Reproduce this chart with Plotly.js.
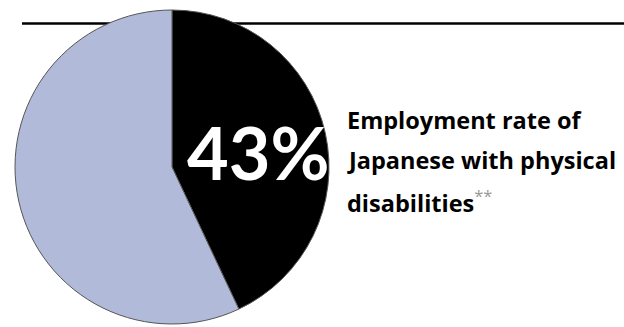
<!DOCTYPE html>
<html>
<head>
<meta charset="utf-8">
<script src="https://cdn.plot.ly/plotly-3.0.1.min.js"></script>
<style>html,body{margin:0;padding:0;background:#fff;}#chart{width:624px;height:327px;}</style>
</head>
<body>
<div id="chart"></div>
<script>
const labels = ["Employed", "Not employed"];
const values = [43, 57];
const colors = ["#000000", "#b2bad9"];
const bigLabel = "43%";
const captionLines = ["Employment rate of", "Japanese with physical", "disabilities"];
const footnoteMark = "**";

const W = 624, H = 327;
const cx = 172, cy = 167, r = 157;

const trace = {
  type: "pie",
  labels: labels,
  values: values,
  sort: false,
  direction: "clockwise",
  rotation: 0,
  textinfo: "none",
  hoverinfo: "label+percent",
  marker: { colors: colors, line: { color: "#555555", width: 1 } },
  domain: { x: [(cx - r) / W, (cx + r) / W], y: [(H - cy - r) / H, (H - cy + r) / H] },
  showlegend: false
};

const bigFont = "Lato, 'Open Sans', sans-serif";
const capFont = "'Open Sans', Lato, sans-serif";
const capY = [120, 160, 201];
const annotations = [
  { text: "<b>" + bigLabel + "</b>", x: 185 / W, y: 1 - 152 / H, xref: "paper", yref: "paper",
    xanchor: "left", yanchor: "middle", showarrow: false,
    font: { family: bigFont, size: 72, color: "#ffffff" } }
];
captionLines.forEach((t, i) => {
  let txt = "<b>" + t + "</b>";
  if (i === captionLines.length - 1) txt += "<span style='color:#999999'><sup>" + footnoteMark + "</sup></span>";
  annotations.push({ text: txt, x: 345 / W, y: 1 - capY[i] / H, xref: "paper", yref: "paper",
    xanchor: "left", yanchor: "middle", showarrow: false,
    font: { family: capFont, size: 23.5, color: "#000000" } });
});

const layout = {
  width: W, height: H,
  margin: { l: 0, r: 0, t: 0, b: 0 },
  paper_bgcolor: "#ffffff",
  plot_bgcolor: "#ffffff",
  shapes: [
    { type: "line", xref: "paper", yref: "paper", x0: 22 / W, x1: 1, y0: 1 - 23.5 / H, y1: 1 - 23.5 / H,
      line: { color: "#000000", width: 2.5 }, layer: "below" }
  ],
  annotations: annotations
};

Plotly.newPlot("chart", [trace], layout, { displayModeBar: false, staticPlot: true });
</script>
</body>
</html>
